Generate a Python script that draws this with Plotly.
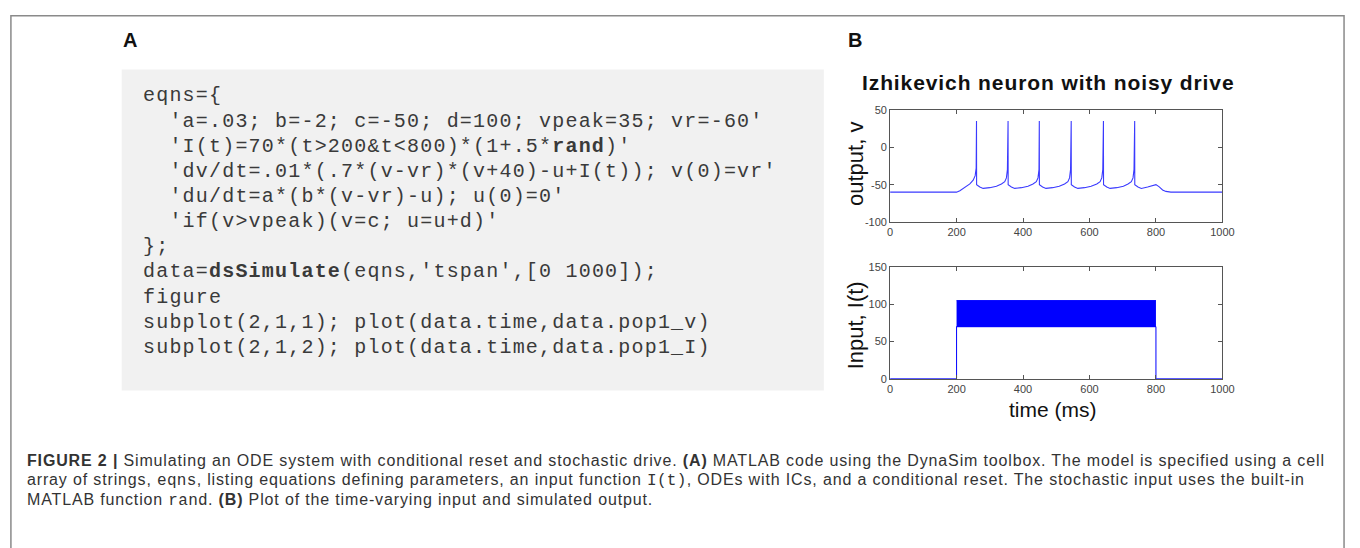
import plotly.graph_objects as go

W, H = 1360, 548

# ---- data ----
# membrane potential trace v(t)
t_v = [0, 200, 210, 225, 240, 250, 256, 259, 260, 260.3, 270, 280, 300, 320, 335, 345, 350, 353, 355, 355.3,
       365, 375, 395, 415, 430, 440, 445, 448, 449, 449.3, 459, 469, 489, 509, 525, 535, 540, 543, 545, 545.3,
       555, 565, 585, 605, 622, 632, 637, 640, 642, 642.3, 652, 662, 682, 702, 716, 726, 731, 734, 736, 736.3,
       746, 756, 775, 790, 800, 810, 820, 830, 845, 1000]
v_vals = [-60, -60, -58, -54, -49, -44, -38, -28, 35, -50, -53, -55, -54, -52, -49, -46, -41, -30, 35, -50,
          -53, -55, -54, -52, -49, -46, -41, -30, 35, -50, -53, -55, -54, -52, -49, -46, -41, -30, 35, -50,
          -53, -55, -54, -52, -49, -46, -41, -30, 35, -50, -53, -55, -54, -52, -49, -46, -41, -30, 35, -50,
          -53, -55, -53, -51, -50, -53, -57, -59, -60, -60]
# input drive I(t): outline and noisy band (70 .. 105)
t_I = [0, 200, 200, 800, 800, 1000]
I_edge = [0, 0, 70, 70, 0, 0]
t_band = [200, 800]
band_low = [70, 70]
band_high = [105, 105]

x_ticks = [0, 200, 400, 600, 800, 1000]
v_ticks = [-100, -50, 0, 50]
I_ticks = [0, 50, 100, 150]

# code lines as (text, bold) segments
code_lines = [
    [("eqns={", False)],
    [("&nbsp;&nbsp;'a=.03; b=-2; c=-50; d=100; vpeak=35; vr=-60'", False)],
    [("&nbsp;&nbsp;'I(t)=70*(t&gt;200&amp;t&lt;800)*(1+.5*", False), ("rand", True), (")'", False)],
    [("&nbsp;&nbsp;'dv/dt=.01*(.7*(v-vr)*(v+40)-u+I(t)); v(0)=vr'", False)],
    [("&nbsp;&nbsp;'du/dt=a*(b*(v-vr)-u); u(0)=0'", False)],
    [("&nbsp;&nbsp;'if(v&gt;vpeak)(v=c; u=u+d)'", False)],
    [("};", False)],
    [("data=", False), ("dsSimulate", True), ("(eqns,'tspan',[0 1000]);", False)],
    [("figure", False)],
    [("subplot(2,1,1); plot(data.time,data.pop1_v)", False)],
    [("subplot(2,1,2); plot(data.time,data.pop1_I)", False)],
]

# caption lines as (text, style) segments: style in {"n", "b", "m"}
caption_lines = [
    [("FIGURE 2 |", "b"), (" Simulating an ODE system with conditional reset and stochastic drive. ", "n"),
     ("(A)", "b"), (" MATLAB code using the DynaSim toolbox. The model is specified using a cell", "n")],
    [("array of strings, ", "n"), ("eqns", "m"),
     (", listing equations defining parameters, an input function ", "n"), ("I(t)", "m"),
     (", ODEs with ICs, and a conditional reset. The stochastic input uses the built-in", "n")],
    [("MATLAB function ", "n"), ("rand", "m"), (". ", "n"), ("(B)", "b"),
     (" Plot of the time-varying input and simulated output.", "n")],
]


def px(x):
    return x / W


def py(y):
    return 1 - y / H


def seg_html(text, spacing, bold=False, family=None):
    st = "letter-spacing:%spx" % spacing
    if bold:
        st += ";font-weight:bold"
    if family:
        st += ";font-family:%s" % family
    return "<span style='%s'>%s</span>" % (st, text)


BLUE = "#0000ff"
fig = go.Figure()
fig.add_trace(go.Scatter(x=t_v, y=v_vals, mode="lines", line=dict(color="#3a3aff", width=1.1),
                         xaxis="x", yaxis="y", showlegend=False, hoverinfo="skip"))
fig.add_trace(go.Scatter(x=t_I, y=I_edge, mode="lines", line=dict(color=BLUE, width=1),
                         xaxis="x2", yaxis="y2", showlegend=False, hoverinfo="skip"))
fig.add_trace(go.Scatter(x=t_band, y=band_low, mode="lines", line=dict(color=BLUE, width=1),
                         xaxis="x2", yaxis="y2", showlegend=False, hoverinfo="skip"))
fig.add_trace(go.Scatter(x=t_band, y=band_high, mode="lines", line=dict(color=BLUE, width=1),
                         fill="tonexty", fillcolor=BLUE,
                         xaxis="x2", yaxis="y2", showlegend=False, hoverinfo="skip"))

axis_common = dict(showline=True, linecolor="#555555", linewidth=1, mirror="ticks", ticks="inside",
                   ticklen=4, tickcolor="#555555", showgrid=False, zeroline=False,
                   tickfont=dict(family="Liberation Sans", size=11, color="#444444"))
xdom = [px(897), px(1233)]
fig.update_layout(
    width=W, height=H, margin=dict(l=0, r=0, t=0, b=0),
    paper_bgcolor="white", plot_bgcolor="white",
    xaxis=dict(domain=xdom, range=[0, 1000], tickvals=x_ticks, ticktext=[str(v) for v in x_ticks],
               anchor="y", **axis_common),
    yaxis=dict(domain=[py(221), py(106)], range=[-100, 50], tickvals=v_ticks,
               ticktext=[str(v) for v in v_ticks], anchor="x", **axis_common),
    xaxis2=dict(domain=xdom, range=[0, 1000], tickvals=x_ticks, ticktext=[str(v) for v in x_ticks],
                anchor="y2", **axis_common),
    yaxis2=dict(domain=[py(381), py(267)], range=[0, 150], tickvals=I_ticks,
                ticktext=[str(v) for v in I_ticks], anchor="x2", **axis_common),
)

shapes = [
    dict(type="rect", xref="paper", yref="paper", x0=px(8), x1=px(1356), y0=py(560), y1=py(10),
         line=dict(color="#8a8a8a", width=1.5), fillcolor="rgba(0,0,0,0)", layer="below"),
    dict(type="rect", xref="paper", yref="paper", x0=px(120), x1=px(830), y0=py(393), y1=py(65),
         line=dict(width=0), fillcolor="#f1f1f1", layer="below"),
]
fig.update_layout(shapes=shapes)

ann = []
ann.append(dict(x=px(128), y=py(35), text="<b>A</b>", font=dict(family="Liberation Sans", size=20, color="#111")))
ann.append(dict(x=px(862), y=py(35), text="<b>B</b>", font=dict(family="Liberation Sans", size=20, color="#111")))
ann.append(dict(x=px(1057), y=py(78), text=seg_html("Izhikevich neuron with noisy drive", 0.9, bold=True),
                font=dict(family="Liberation Sans", size=21, color="#111")))
ann.append(dict(x=px(862), y=py(161), text="output, v", textangle=-90,
                font=dict(family="Liberation Sans", size=22, color="#111")))
ann.append(dict(x=px(862), y=py(326), text="Input, I(t)", textangle=-90,
                font=dict(family="Liberation Sans", size=22, color="#111")))
ann.append(dict(x=px(1062), y=py(413), text="time (ms)",
                font=dict(family="Liberation Sans", size=21, color="#111")))
for i, segs in enumerate(code_lines):
    text = "".join(seg_html(t, 1.2, bold=b) for t, b in segs)
    ann.append(dict(x=px(140), y=py(92 + 25.7 * i), text=text, xanchor="left",
                    font=dict(family="Liberation Mono", size=20, color="#3a3a3a")))
for i, segs in enumerate(caption_lines):
    parts = []
    for t, s in segs:
        if s == "m":
            parts.append(seg_html(t, 0.3, family="Liberation Mono"))
        else:
            parts.append(seg_html(t, 0.85, bold=(s == "b")))
    ann.append(dict(x=px(22), y=py(465 + 20.5 * i), text="".join(parts), xanchor="left",
                    font=dict(family="Liberation Sans", size=16, color="#333333")))
for a in ann:
    a.update(xref="paper", yref="paper", showarrow=False)
    a.setdefault("xanchor", "center")
    a.setdefault("yanchor", "middle")
fig.update_layout(annotations=ann)

fig.write_html("out.html")
